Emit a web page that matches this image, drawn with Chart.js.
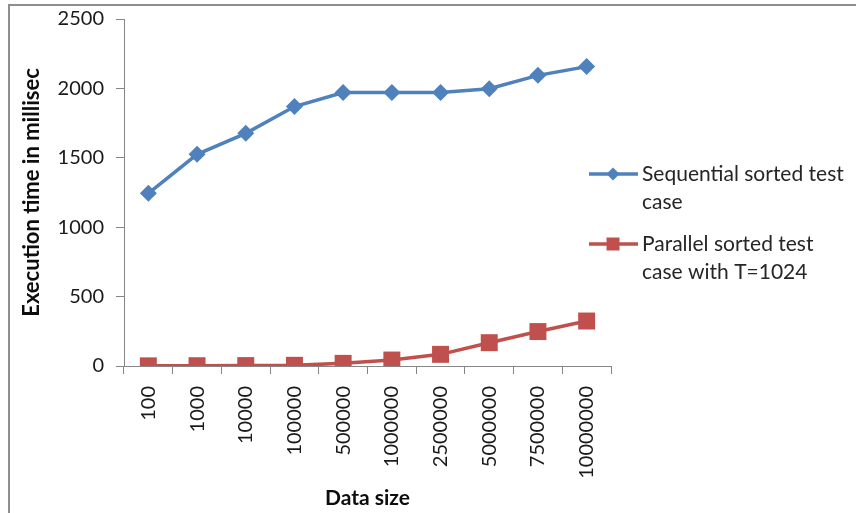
<!DOCTYPE html>
<html>
<head>
<meta charset="utf-8">
<script src="https://cdn.jsdelivr.net/npm/chart.js@4"></script>
<style>
  html, body { margin: 0; padding: 0; background: #fff; }
  #wrap { position: relative; width: 856px; height: 513px; overflow: hidden; }
  #frame { position: absolute; left: 8px; top: 4px; width: 900px; height: 600px;
           border-left: 2px solid #8e8e8e; border-top: 2px solid #8e8e8e; }
  canvas { position: absolute; left: 0; top: -5px; }
</style>
</head>
<body>
<div id="wrap">
  <div id="frame"></div>
  <canvas id="c" width="856" height="518"></canvas>
</div>
<script>
// Data sizes tested
const dataSizes = ['100', '1000', '10000', '100000', '500000', '1000000', '2500000', '5000000', '7500000', '10000000'];
// Execution time (ms), sequential sort
const sequentialMs = [1244, 1525, 1676, 1869, 1970, 1970, 1970, 1998, 2094, 2157];
// Execution time (ms), parallel sort with T=1024
const parallelMs = [1, 2, 3, 5, 19, 43, 84, 168, 248, 324];
// Value axis ticks
const yTicks = [0, 500, 1000, 1500, 2000, 2500];

const legendLines = [
  ['Sequential sorted test', 'case'],
  ['Parallel sorted test', 'case with T=1024']
];

const BLUE = '#4F81BD';
const RED = '#C0504D';
const AXIS = '#868686';
const FONT = 'Lato, "Open Sans", sans-serif';

// Legend drawn on the right side, two wrapped entries
const sideLegend = {
  id: 'sideLegend',
  afterDraw(chart) {
    const ctx = chart.ctx;
    const entries = [
      { color: BLUE, style: 'diamond', y: 179, lines: legendLines[0] },
      { color: RED, style: 'square', y: 249, lines: legendLines[1] }
    ];
    ctx.save();
    entries.forEach(e => {
      ctx.strokeStyle = e.color;
      ctx.fillStyle = e.color;
      ctx.lineWidth = 3.5;
      ctx.beginPath();
      ctx.moveTo(589, e.y);
      ctx.lineTo(638, e.y);
      ctx.stroke();
      ctx.beginPath();
      if (e.style === 'diamond') {
        const r = 6.5;
        ctx.moveTo(613, e.y - r);
        ctx.lineTo(613 + r, e.y);
        ctx.lineTo(613, e.y + r);
        ctx.lineTo(613 - r, e.y);
        ctx.closePath();
      } else {
        ctx.rect(613 - 6.5, e.y - 6.5, 13, 13);
      }
      ctx.fill();
      ctx.fillStyle = '#262626';
      ctx.font = '21px ' + FONT;
      ctx.textBaseline = 'middle';
      ctx.textAlign = 'left';
      e.lines.forEach((t, i) => ctx.fillText(t, 642, e.y + i * 28.5));
    });
    ctx.restore();
  }
};

new Chart(document.getElementById('c'), {
  type: 'line',
  data: {
    labels: dataSizes,
    datasets: [
      {
        label: 'Sequential sorted test case',
        data: sequentialMs,
        borderColor: BLUE,
        backgroundColor: BLUE,
        borderWidth: 3.5,
        pointStyle: 'rectRot',
        pointRadius: 8.5,
        pointBorderWidth: 0,
        tension: 0
      },
      {
        label: 'Parallel sorted test case with T=1024',
        data: parallelMs,
        borderColor: RED,
        backgroundColor: RED,
        borderWidth: 3.5,
        pointStyle: 'rect',
        pointRadius: 12,
        pointBorderWidth: 0,
        tension: 0
      }
    ]
  },
  options: {
    responsive: false,
    animation: false,
    devicePixelRatio: 1,
    layout: { padding: { left: 10, top: 14, right: 245, bottom: 0 } },
    plugins: {
      legend: { display: false },
      tooltip: { enabled: false }
    },
    scales: {
      x: {
        offset: true,
        grid: {
          offset: true,
          drawOnChartArea: false,
          drawTicks: true,
          tickLength: 8,
          color: AXIS,
          lineWidth: 1
        },
        border: { color: AXIS, width: 1 },
        ticks: {
          color: '#1a1a1a',
          font: { family: FONT, size: 20 },
          minRotation: 90,
          maxRotation: 90,
          padding: 12,
          autoSkip: false
        },
        title: {
          display: true,
          text: 'Data size',
          color: '#0d0d0d',
          font: { family: FONT, size: 21, weight: 'bold' },
          padding: { top: 0, bottom: 2 }
        },
        afterFit(scale) { scale.height = 147; }
      },
      y: {
        min: 0,
        max: 2500,
        afterBuildTicks(scale) { scale.ticks = yTicks.map(v => ({ value: v })); },
        grid: {
          drawOnChartArea: false,
          drawTicks: true,
          tickLength: 8,
          color: AXIS,
          lineWidth: 1
        },
        border: { color: AXIS, width: 1 },
        ticks: {
          color: '#1a1a1a',
          font: { family: FONT, size: 20 },
          padding: 12,
          callback: v => String(v)
        },
        title: {
          display: true,
          text: 'Execution time in millisec',
          color: '#0d0d0d',
          font: { family: FONT, size: 22, weight: 'bold' },
          padding: { top: 9, bottom: 0 }
        },
        afterFit(scale) { scale.width = 114; }
      }
    }
  },
  plugins: [sideLegend]
});
</script>
</body>
</html>
